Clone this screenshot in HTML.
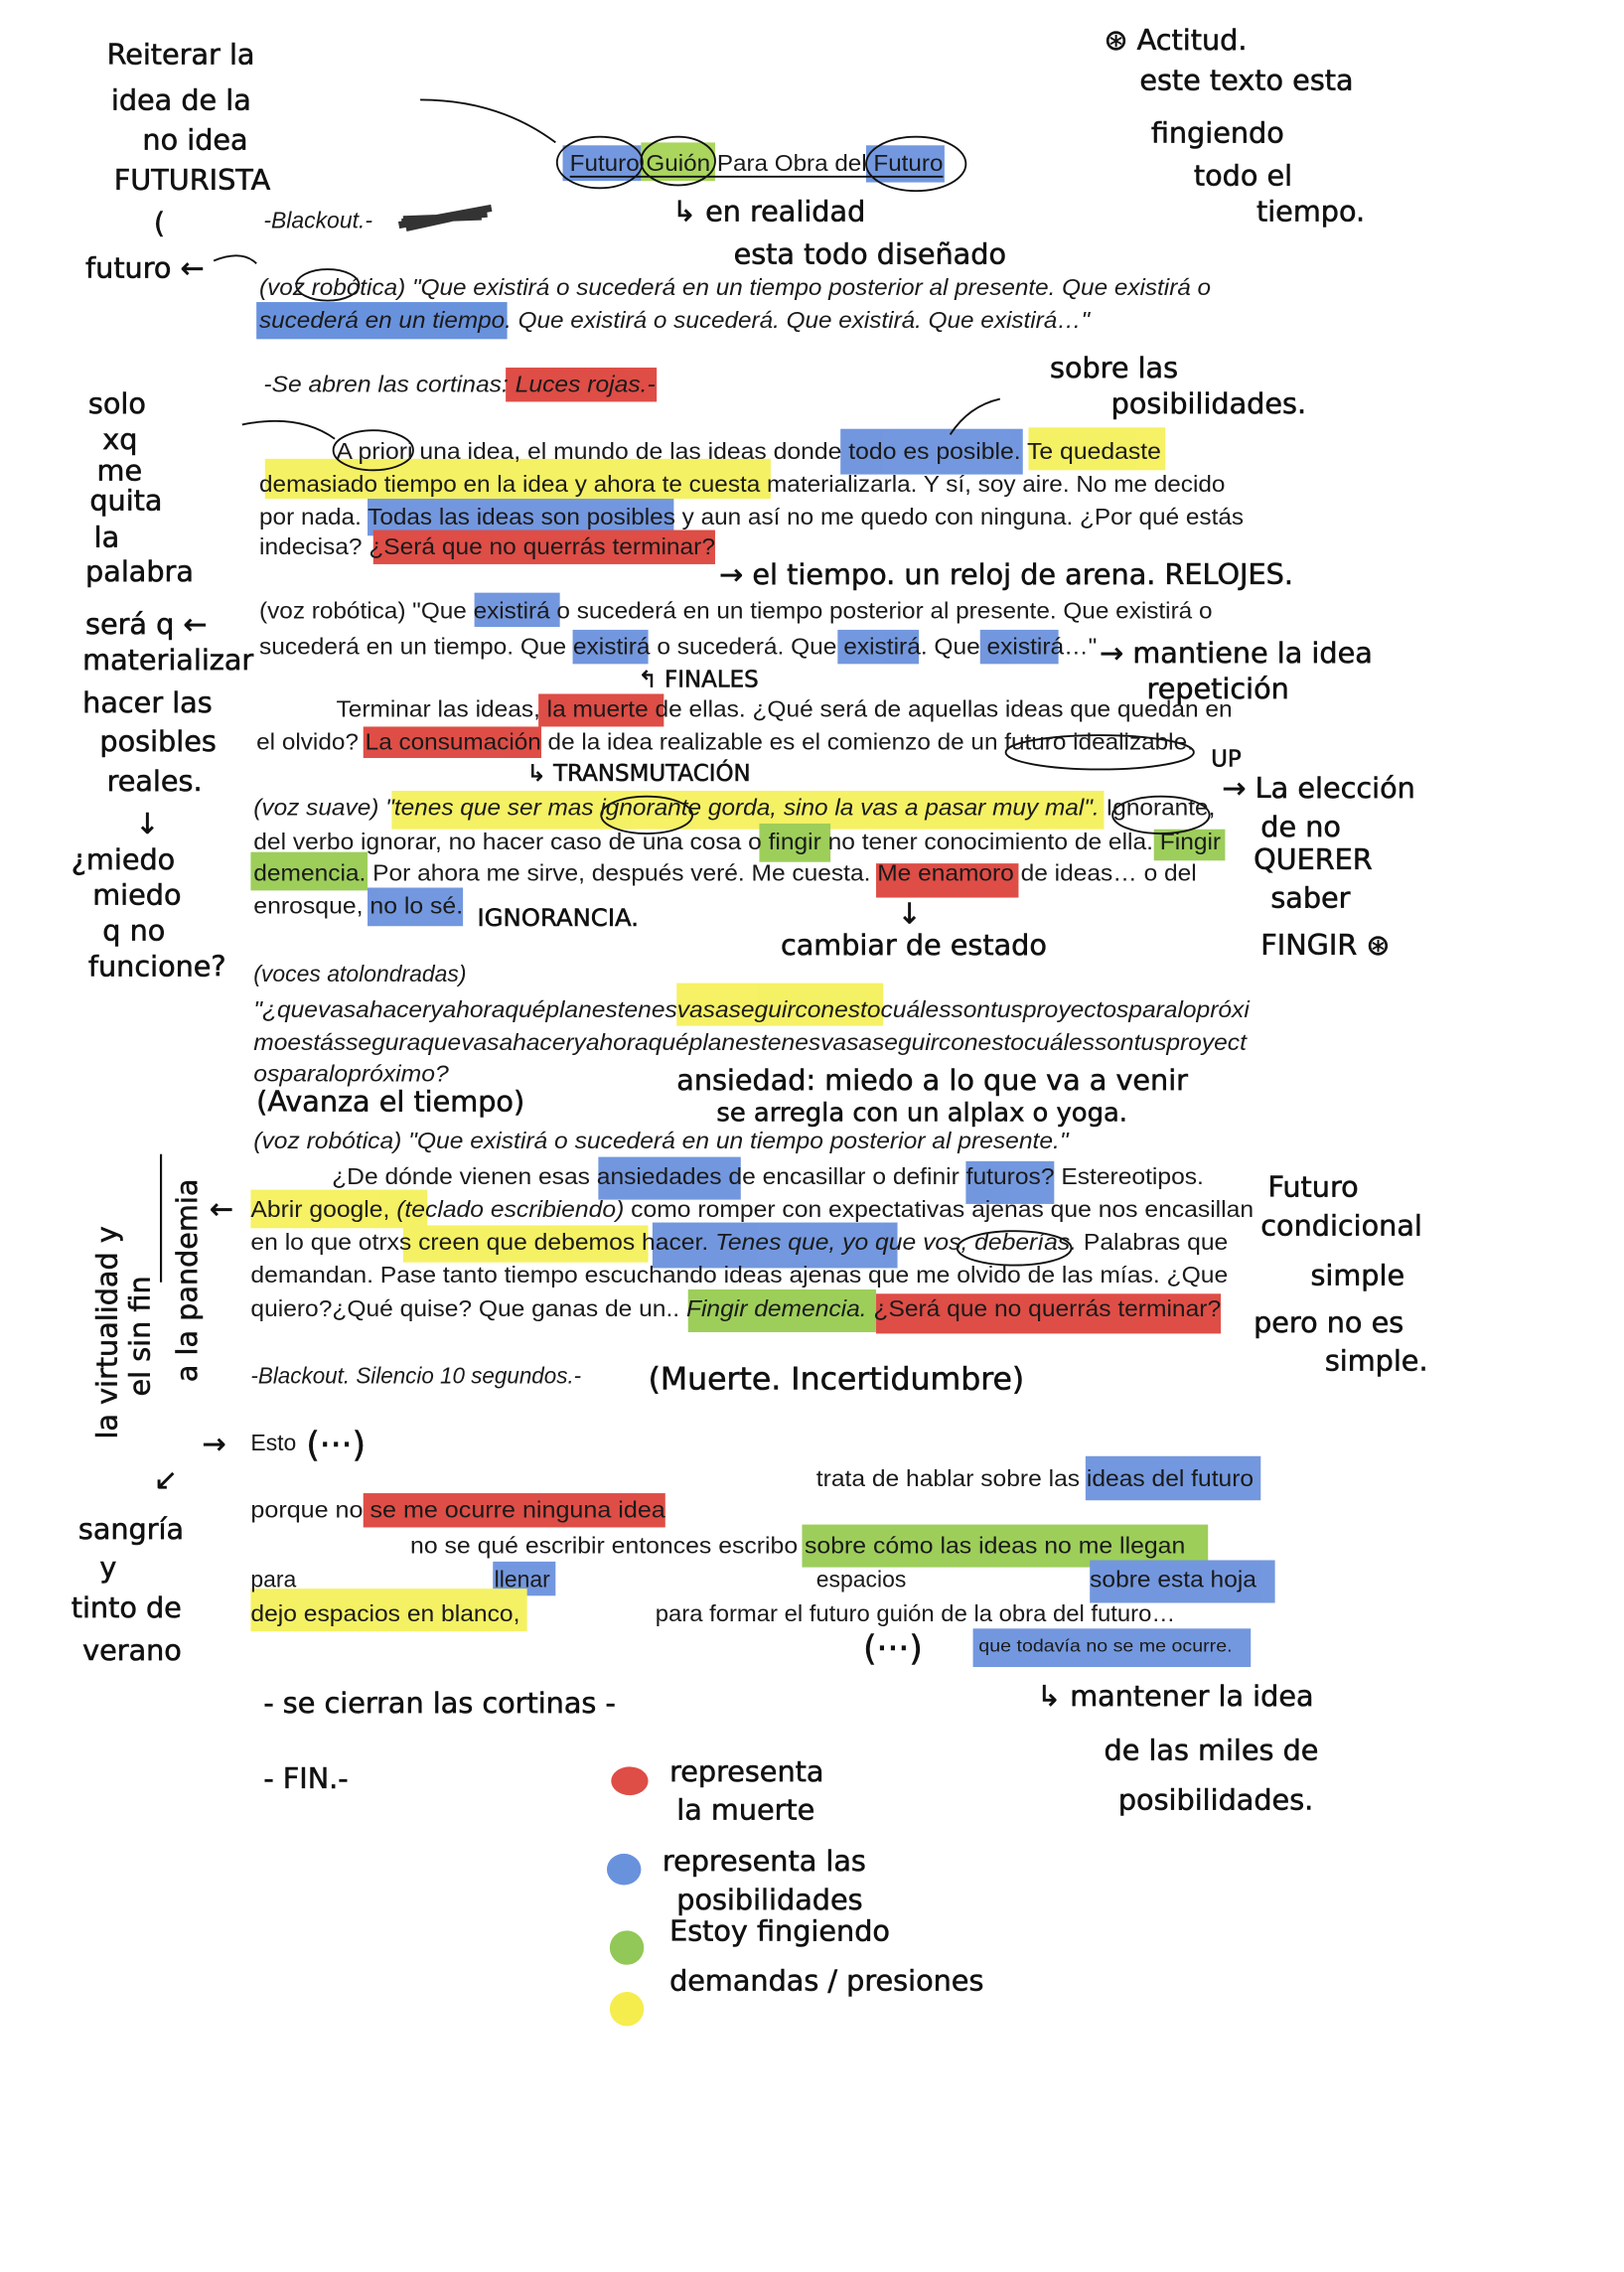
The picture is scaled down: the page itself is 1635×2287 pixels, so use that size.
<!DOCTYPE html>
<html><head><meta charset="utf-8">
<style>
html,body{margin:0;padding:0;background:#fff;}
svg{display:block;}
.b{font-family:"Liberation Sans Narrow","Liberation Sans",sans-serif;font-size:16px;fill:#1a1a1a;}
.i{font-style:italic;}
.h{font-family:"DejaVu Sans",sans-serif;font-size:20px;fill:#111;stroke:#111;stroke-width:0.4;}
.hl{opacity:.85}
</style></head><body>
<svg width="1635" height="2287" viewBox="0 0 1140 1594.6" xmlns="http://www.w3.org/2000/svg">
<rect width="1140" height="1595" fill="#fff"/>
<g class="hl">
<rect x="395" y="102" width="55" height="25" fill="#5b86d9"/>
<rect x="450" y="100" width="52" height="27" fill="#9cd041"/>
<rect x="608" y="102" width="55" height="26" fill="#5b86d9"/>
<rect x="180" y="212" width="176" height="26" fill="#4f7fd8"/>
<rect x="355" y="258" width="106" height="24" fill="#d92f26"/>
<rect x="590" y="301" width="128" height="32" fill="#5b86d9"/>
<rect x="722" y="300" width="96" height="30" fill="#f4ef4a"/>
<rect x="186" y="322" width="355" height="28" fill="#f4ef4a"/>
<rect x="258" y="350" width="215" height="26" fill="#5b86d9"/>
<rect x="262" y="372" width="240" height="24" fill="#d92f26"/>
<rect x="333" y="416" width="60" height="24" fill="#5b86d9"/>
<rect x="402" y="442" width="53" height="24" fill="#5b86d9"/>
<rect x="588" y="442" width="57" height="24" fill="#5b86d9"/>
<rect x="688" y="442" width="55" height="24" fill="#5b86d9"/>
<rect x="378" y="487" width="88" height="23" fill="#d92f26"/>
<rect x="255" y="510" width="125" height="22" fill="#d92f26"/>
<rect x="275" y="555" width="500" height="27" fill="#f4ef4a"/>
<rect x="533" y="578" width="50" height="27" fill="#8cc63e"/>
<rect x="810" y="582" width="50" height="22" fill="#8cc63e"/>
<rect x="176" y="598" width="82" height="27" fill="#8cc63e"/>
<rect x="615" y="606" width="100" height="24" fill="#d92f26"/>
<rect x="258" y="623" width="67" height="27" fill="#5b86d9"/>
<rect x="475" y="690" width="145" height="30" fill="#f4ef4a"/>
<rect x="420" y="812" width="100" height="30" fill="#5b86d9"/>
<rect x="678" y="815" width="62" height="30" fill="#5b86d9"/>
<rect x="176" y="835" width="124" height="27" fill="#f4ef4a"/>
<rect x="283" y="860" width="172" height="26" fill="#f4ef4a"/>
<rect x="458" y="858" width="172" height="32" fill="#5b86d9"/>
<rect x="483" y="905" width="132" height="30" fill="#8cc63e"/>
<rect x="615" y="908" width="242" height="28" fill="#d92f26"/>
<rect x="762" y="1022" width="123" height="31" fill="#5b86d9"/>
<rect x="255" y="1048" width="212" height="24" fill="#d92f26"/>
<rect x="563" y="1070" width="285" height="30" fill="#8cc63e"/>
<rect x="346" y="1096" width="44" height="24" fill="#5b86d9"/>
<rect x="765" y="1095" width="130" height="30" fill="#5b86d9"/>
<rect x="176" y="1115" width="194" height="30" fill="#f4ef4a"/>
<rect x="683" y="1143" width="195" height="27" fill="#5b86d9"/>
<ellipse cx="442" cy="1250" rx="13" ry="10" fill="#d92f26"/>
<ellipse cx="438" cy="1312" rx="12" ry="11" fill="#4f7fd8"/>
<ellipse cx="440" cy="1367" rx="12" ry="12" fill="#7fbf3a"/>
<ellipse cx="440" cy="1410" rx="12" ry="12" fill="#f4ea30"/>
</g>
<path d="M280 158 L345 146 M282 156 L342 150 M285 160 L340 148 M283 154 L338 152" stroke="#333" stroke-width="5" fill="none"/>
<g fill="none" stroke="#111" stroke-width="1.3">
<ellipse cx="421" cy="114" rx="30" ry="18"/><ellipse cx="476" cy="113" rx="26" ry="17"/><ellipse cx="643" cy="115" rx="35" ry="19"/>
<ellipse cx="230" cy="200" rx="22" ry="11"/><ellipse cx="262" cy="316" rx="28" ry="14"/>
<ellipse cx="454" cy="572" rx="32" ry="13"/><ellipse cx="815" cy="572" rx="34" ry="13"/>
<ellipse cx="772" cy="528" rx="66" ry="12"/><ellipse cx="712" cy="876" rx="40" ry="12"/>
<line x1="400" y1="124" x2="662" y2="124"/>
<path d="M295 70 Q350 70 390 100"/><path d="M150 183 Q170 175 180 185"/>
<path d="M170 298 Q210 290 235 308"/><path d="M667 305 Q680 285 702 280"/>
</g>
<line x1="113" y1="810" x2="113" y2="900" stroke="#111" stroke-width="1.5"/>
<g class="b">
<text x="185" y="160" class="i">-Blackout.-</text>
<text x="400" y="120" textLength="262" lengthAdjust="spacingAndGlyphs">Futuro Guión Para Obra del Futuro</text>
<text x="182" y="207" class="i" textLength="668" lengthAdjust="spacingAndGlyphs">(voz robótica) "Que existirá o sucederá en un tiempo posterior al presente. Que existirá o</text>
<text x="182" y="230" class="i" textLength="583" lengthAdjust="spacingAndGlyphs">sucederá en un tiempo. Que existirá o sucederá. Que existirá. Que existirá…"</text>
<text x="185" y="275" class="i" textLength="275" lengthAdjust="spacingAndGlyphs">-Se abren las cortinas: Luces rojas.-</text>
<text x="236" y="322" textLength="579" lengthAdjust="spacingAndGlyphs">A priori una idea, el mundo de las ideas donde todo es posible. Te quedaste</text>
<text x="182" y="345" textLength="678" lengthAdjust="spacingAndGlyphs">demasiado tiempo en la idea y ahora te cuesta materializarla. Y sí, soy aire. No me decido</text>
<text x="182" y="368" textLength="691" lengthAdjust="spacingAndGlyphs">por nada. Todas las ideas son posibles y aun así no me quedo con ninguna. ¿Por qué estás</text>
<text x="182" y="389" textLength="320" lengthAdjust="spacingAndGlyphs">indecisa? ¿Será que no querrás terminar?</text>
<text x="182" y="434" textLength="669" lengthAdjust="spacingAndGlyphs">(voz robótica) "Que existirá o sucederá en un tiempo posterior al presente. Que existirá o</text>
<text x="182" y="459" textLength="588" lengthAdjust="spacingAndGlyphs">sucederá en un tiempo. Que existirá o sucederá. Que existirá. Que existirá…"</text>
<text x="236" y="503" textLength="629" lengthAdjust="spacingAndGlyphs">Terminar las ideas, la muerte de ellas. ¿Qué será de aquellas ideas que quedan en</text>
<text x="180" y="526" textLength="658" lengthAdjust="spacingAndGlyphs">el olvido? La consumación de la idea realizable es el comienzo de un futuro idealizable.</text>
<text x="178" y="572" textLength="675" lengthAdjust="spacingAndGlyphs"><tspan class="i">(voz suave) "tenes que ser mas ignorante gorda, sino la vas a pasar muy mal".</tspan> Ignorante,</text>
<text x="178" y="596" textLength="679" lengthAdjust="spacingAndGlyphs">del verbo ignorar, no hacer caso de una cosa o fingir no tener conocimiento de ella. Fingir</text>
<text x="178" y="618" textLength="662" lengthAdjust="spacingAndGlyphs">demencia. Por ahora me sirve, después veré. Me cuesta. Me enamoro de ideas… o del</text>
<text x="178" y="641" textLength="147" lengthAdjust="spacingAndGlyphs">enrosque, no lo sé.</text>
<text x="178" y="689" class="i">(voces atolondradas)</text>
<text x="178" y="714" class="i" textLength="699" lengthAdjust="spacingAndGlyphs">"¿quevasahaceryahoraquéplanestenesvasaseguirconestocuálessontusproyectosparalopróxi</text>
<text x="178" y="737" class="i" textLength="697" lengthAdjust="spacingAndGlyphs">moestásseguraquevasahaceryahoraquéplanestenesvasaseguirconestocuálessontusproyect</text>
<text x="178" y="759" class="i" textLength="137" lengthAdjust="spacingAndGlyphs">osparalopróximo?</text>
<text x="178" y="806" class="i" textLength="572" lengthAdjust="spacingAndGlyphs">(voz robótica) "Que existirá o sucederá en un tiempo posterior al presente."</text>
<text x="233" y="831" textLength="612" lengthAdjust="spacingAndGlyphs">¿De dónde vienen esas ansiedades de encasillar o definir futuros? Estereotipos.</text>
<text x="176" y="854" textLength="704" lengthAdjust="spacingAndGlyphs">Abrir google, <tspan class="i">(teclado escribiendo)</tspan> como romper con expectativas ajenas que nos encasillan</text>
<text x="176" y="877" textLength="686" lengthAdjust="spacingAndGlyphs">en lo que otrxs creen que debemos hacer. <tspan class="i">Tenes que, yo que vos, deberías.</tspan> Palabras que</text>
<text x="176" y="900" textLength="686" lengthAdjust="spacingAndGlyphs">demandan. Pase tanto tiempo escuchando ideas ajenas que me olvido de las mías. ¿Que</text>
<text x="176" y="924" textLength="681" lengthAdjust="spacingAndGlyphs">quiero?¿Qué quise? Que ganas de un.. <tspan class="i">Fingir demencia.</tspan> ¿Será que no querrás terminar?</text>
<text x="176" y="971" class="i" textLength="232" lengthAdjust="spacingAndGlyphs">-Blackout. Silencio 10 segundos.-</text>
<text x="176" y="1018">Esto</text>
<text x="573" y="1043" textLength="307" lengthAdjust="spacingAndGlyphs">trata de hablar sobre las ideas del futuro</text>
<text x="176" y="1065" textLength="291" lengthAdjust="spacingAndGlyphs">porque no se me ocurre ninguna idea</text>
<text x="288" y="1090" textLength="544" lengthAdjust="spacingAndGlyphs">no se qué escribir entonces escribo sobre cómo las ideas no me llegan</text>
<text x="176" y="1114">para</text>
<text x="347" y="1114">llenar</text>
<text x="573" y="1114">espacios</text>
<text x="765" y="1114" textLength="117" lengthAdjust="spacingAndGlyphs">sobre esta hoja</text>
<text x="176" y="1138" textLength="189" lengthAdjust="spacingAndGlyphs">dejo espacios en blanco,</text>
<text x="460" y="1138" textLength="365" lengthAdjust="spacingAndGlyphs">para formar el futuro guión de la obra del futuro…</text>
<text x="687" y="1159" font-size="12" textLength="178" lengthAdjust="spacingAndGlyphs">que todavía no se me ocurre.</text>
</g>
<g class="h">
<text x="75" y="45">Reiterar la</text>
<text x="78" y="77">idea de la</text>
<text x="100" y="105">no idea</text>
<text x="80" y="133">FUTURISTA</text>
<text x="108" y="163">(</text>
<text x="60" y="195">futuro ←</text>
<text x="775" y="35">⊛ Actitud.</text>
<text x="800" y="63">este texto esta</text>
<text x="808" y="100">fingiendo</text>
<text x="838" y="130">todo el</text>
<text x="882" y="155">tiempo.</text>
<text x="472" y="155">↳ en realidad</text>
<text x="515" y="185">esta todo diseñado</text>
<text x="737" y="265">sobre las</text>
<text x="780" y="290">posibilidades.</text>
<text x="62" y="290">solo</text>
<text x="72" y="315">xq</text>
<text x="68" y="337">me</text>
<text x="63" y="358">quita</text>
<text x="66" y="384">la</text>
<text x="60" y="408">palabra</text>
<text x="505" y="410">→ el tiempo. un reloj de arena. RELOJES.</text>
<text x="60" y="445">será q ←</text>
<text x="58" y="470">materializar</text>
<text x="58" y="500">hacer las</text>
<text x="70" y="527">posibles</text>
<text x="75" y="555">reales.</text>
<text x="95" y="585">↓</text>
<text x="50" y="610">¿miedo</text>
<text x="65" y="635">miedo</text>
<text x="72" y="660">q no</text>
<text x="62" y="685">funcione?</text>
<text x="772" y="465">→ mantiene la idea</text>
<text x="805" y="490">repetición</text>
<text x="448" y="482" font-size="16">↰ FINALES</text>
<text x="370" y="548" font-size="16">↳ TRANSMUTACIÓN</text>
<text x="850" y="538" font-size="16">UP</text>
<text x="858" y="560">→ La elección</text>
<text x="885" y="587">de no</text>
<text x="880" y="610">QUERER</text>
<text x="892" y="637">saber</text>
<text x="885" y="670">FINGIR ⊛</text>
<text x="335" y="650" font-size="17">IGNORANCIA.</text>
<text x="630" y="648">↓</text>
<text x="548" y="670">cambiar de estado</text>
<text x="180" y="780">(Avanza el tiempo)</text>
<text x="475" y="765">ansiedad: miedo a lo que va a venir</text>
<text x="503" y="787" font-size="18">se arregla con un alplax o yoga.</text>
<text x="890" y="840">Futuro</text>
<text x="885" y="867">condicional</text>
<text x="920" y="902">simple</text>
<text x="880" y="935">pero no es</text>
<text x="930" y="962">simple.</text>
<text x="147" y="855">←</text>
<text x="455" y="975" font-size="22">(Muerte. Incertidumbre)</text>
<text x="142" y="1020">→</text>
<text x="215" y="1022" font-size="24">(···)</text>
<text x="606" y="1165" font-size="24">(···)</text>
<text x="55" y="1080">sangría</text>
<text x="70" y="1107">y</text>
<text x="50" y="1135">tinto de</text>
<text x="58" y="1165">verano</text>
<text x="108" y="1045">↙</text>
<text x="185" y="1202">- se cierran las cortinas -</text>
<text x="728" y="1197">↳ mantener la idea</text>
<text x="775" y="1235">de las miles de</text>
<text x="785" y="1270">posibilidades.</text>
<text x="185" y="1255">- FIN.-</text>
<text x="470" y="1250">representa</text>
<text x="475" y="1277">la muerte</text>
<text x="465" y="1313">representa las</text>
<text x="475" y="1340">posibilidades</text>
<text x="470" y="1362">Estoy fingiendo</text>
<text x="470" y="1397">demandas / presiones</text>
<text transform="translate(82,1010) rotate(-90)">la virtualidad y</text>
<text transform="translate(105,980) rotate(-90)">el sin fin</text>
<text transform="translate(138,970) rotate(-90)">a la pandemia</text>
</g>
</svg>
</body></html>
